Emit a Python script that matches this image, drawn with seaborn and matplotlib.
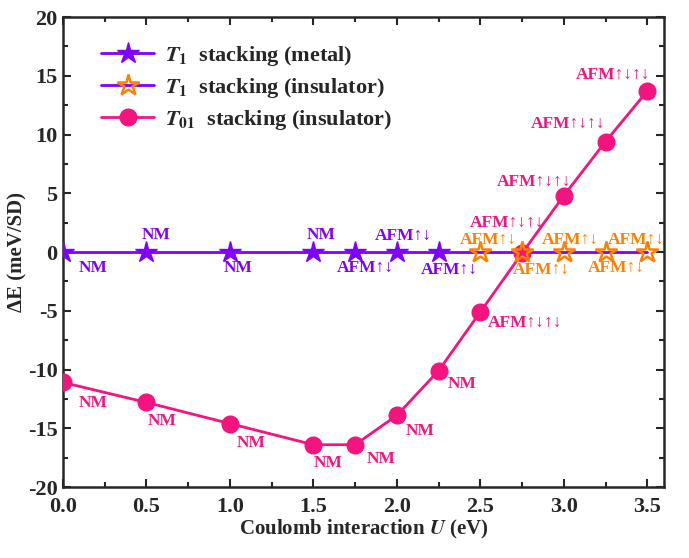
import matplotlib
matplotlib.use("Agg")
import matplotlib.pyplot as plt
import numpy as np
import pandas as pd
import seaborn as sns
from matplotlib.lines import Line2D
from matplotlib.ticker import MultipleLocator, FuncFormatter

# data
u_metal = [0.0, 0.5, 1.0, 1.5, 1.75, 2.0, 2.25]
e_metal = [0, 0, 0, 0, 0, 0, 0]
lab_metal = ["NM", "NM", "NM", "NM", "AFM↑↓", "AFM↑↓", "AFM↑↓"]

u_ins = [2.5, 2.75, 3.0, 3.25, 3.5]
e_ins = [0, 0, 0, 0, 0]
lab_ins = ["AFM↑↓"] * 5

u_t01 = [0.0, 0.5, 1.0, 1.5, 1.75, 2.0, 2.25, 2.5, 2.75, 3.0, 3.25, 3.5]
e_t01 = [-11.1, -12.8, -14.6, -16.4, -16.4, -13.9, -10.1, -5.1, -0.1, 4.8, 9.4, 13.7]
lab_t01 = ["NM"] * 7 + ["AFM↑↓↑↓"] * 5

# label offsets (pixels) from each point
off_metal = [(30, -16), (10, 17), (8, -16), (8, 17), (10, -16), (6, 16), (11, -18)]
off_ins = [(8, 12), (19, -18), (7, 12), (11, -16), (-11, 12)]
off_t01 = [(30, -21), (16, -19), (21, -19), (15, -18), (26, -14), (23, -16), (24, -13),
           (45, -11), (-15, 30), (-30, 14), (-37, 18), (-34, 16)]

PURPLE = "#7f00ff"
ORANGE = "#ff8000"
PINK = "#f5137f"

sns.set_style("ticks")
plt.rcParams["font.family"] = ["Liberation Serif", "DejaVu Serif"]
plt.rcParams["font.weight"] = "bold"
plt.rcParams["mathtext.fontset"] = "stix"

fig = plt.figure(figsize=(6.89, 5.58), dpi=100)
ax = fig.add_axes([0.0914, 0.1272, 0.8723, 0.8423])

df_t1 = pd.DataFrame({"U": u_metal + u_ins, "E": e_metal + e_ins})
df_t01 = pd.DataFrame({"U": u_t01, "E": e_t01})

sns.lineplot(data=df_t1, x="U", y="E", color=PURPLE, lw=2, ax=ax, zorder=2)
sns.lineplot(data=df_t01, x="U", y="E", color=PINK, lw=2, ax=ax, zorder=2)
ax.plot(u_t01, e_t01, "o", ms=12, color=PINK, mec=PINK, zorder=3)
ax.plot(u_metal, e_metal, "*", ms=16, color=PURPLE, mec=PURPLE, zorder=4)
ax.plot(u_ins, e_ins, "*", ms=16, mfc="none", mec=ORANGE, mew=1.8, zorder=4)

fs = 12.5
for xs, ys, labs, offs, col in [(u_metal, e_metal, lab_metal, off_metal, PURPLE),
                                (u_ins, e_ins, lab_ins, off_ins, ORANGE),
                                (u_t01, e_t01, lab_t01, off_t01, PINK)]:
    for u, e, t, o in zip(xs, ys, labs, offs):
        ax.annotate(t, (u, e), xytext=o, textcoords="offset pixels",
                    ha="center", va="center", color=col,
                    fontsize=fs, fontweight="bold")

ax.set_xlim(0, 3.6)
ax.set_ylim(-20, 20)
ax.xaxis.set_major_locator(MultipleLocator(0.5))
ax.xaxis.set_minor_locator(MultipleLocator(0.25))
ax.yaxis.set_major_locator(MultipleLocator(5))
ax.yaxis.set_minor_locator(MultipleLocator(2.5))
ax.yaxis.set_major_formatter(FuncFormatter(lambda v, p: "%d" % v))
ax.xaxis.set_major_formatter(FuncFormatter(lambda v, p: "%.1f" % v))
ax.tick_params(which="both", direction="in", top=True, right=True, width=1.5,
               labelsize=16)
ax.tick_params(which="major", length=6)
ax.tick_params(which="minor", length=3.5)
ax.tick_params(axis="x", pad=7)
ax.tick_params(axis="y", pad=4)
for lab in ax.get_xticklabels() + ax.get_yticklabels():
    lab.set_fontweight("bold")
for sp in ax.spines.values():
    sp.set_linewidth(1.8)
    sp.set_visible(True)

ax.set_xlabel(r"Coulomb interaction $\mathbf{\mathit{U}}$ (eV)", fontsize=15,
              fontweight="bold", labelpad=1)
ax.set_ylabel("ΔE (meV/SD)", fontsize=15, fontweight="bold", labelpad=0)

handles = [
    Line2D([], [], color=PURPLE, lw=2, marker="*", ms=16, mfc=PURPLE, mec=PURPLE),
    Line2D([], [], color=PURPLE, lw=2, marker="*", ms=16, mfc="none", mec=ORANGE, mew=1.8),
    Line2D([], [], color=PINK, lw=2, marker="o", ms=12, mfc=PINK, mec=PINK),
]
labels = [r"$\mathbf{\mathit{T}_1}$  stacking (metal)",
          r"$\mathbf{\mathit{T}_1}$  stacking (insulator)",
          r"$\mathbf{\mathit{T}_{01}}$  stacking (insulator)"]
ax.legend(handles, labels, loc="upper left", frameon=False,
          prop={"weight": "bold", "size": 16}, handlelength=2.4,
          bbox_to_anchor=(0.03, 0.985), labelspacing=0.35, handletextpad=0.5)

fig.savefig("out.png", dpi=100)
